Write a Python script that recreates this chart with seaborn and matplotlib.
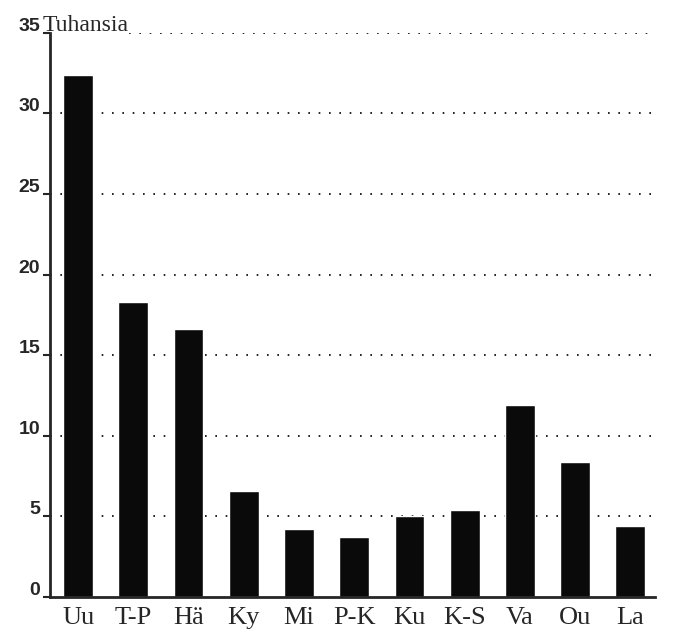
import matplotlib
matplotlib.use("Agg")
import matplotlib.pyplot as plt
import matplotlib.transforms as mtransforms
import pandas as pd
import seaborn as sns

# Regions (abbreviated) and values in thousands ("Tuhansia")
regions = ["Uu", "T-P", "Hä", "Ky", "Mi", "P-K", "Ku", "K-S", "Va", "Ou", "La"]
values = [32.4, 18.3, 16.6, 6.6, 4.2, 3.7, 5.0, 5.4, 11.9, 8.4, 4.4]
y_ticks = [0, 5, 10, 15, 20, 25, 30, 35]

df = pd.DataFrame({"region": regions, "value": values})

sns.set_style("ticks")
fig = plt.figure(figsize=(6.8, 6.36), dpi=100)
ax = fig.add_axes([0.0735, 0.0613, 0.89, 0.887])

# dotted reference lines behind the bars (top one starts after the unit label)
for t in y_ticks[1:]:
    start = 0.13 if t == 35 else 0.0
    ax.axhline(t, xmin=start, color="black", lw=1.2,
               linestyle=(0, (1, 5.2)), zorder=0)

sns.barplot(data=df, x="region", y="value", color="#0a0a0a", width=0.54,
            saturation=1, ax=ax, zorder=2)

ax.set_ylim(0, 35)
ax.set_xlim(-0.51, 10.45)
ax.set_yticks(y_ticks)
ax.set_yticklabels([str(t) for t in y_ticks], fontsize=14, fontweight="bold",
                   family="Liberation Sans")
ax.set_xticks(range(len(regions)))
ax.set_xticklabels(regions, fontsize=19, family="Liberation Serif")
ax.tick_params(axis="y", length=5, width=1.5, pad=2)
ax.tick_params(axis="x", length=0, pad=7)
ax.set_xlabel("")
ax.set_ylabel("")

# y labels sit just above their tick, as in the original
shift = mtransforms.ScaledTranslation(0, 1.5 / 72, fig.dpi_scale_trans)
for lab in ax.get_yticklabels():
    lab.set_va("baseline")
    lab.set_transform(lab.get_transform() + shift)

sns.despine(ax=ax)
for side in ["left", "bottom"]:
    ax.spines[side].set_linewidth(2)

fig.text(0.062, 0.952, "Tuhansia", fontsize=17, family="Liberation Serif",
         ha="left", va="baseline")

fig.savefig("out.png", dpi=100)
plt.close(fig)
